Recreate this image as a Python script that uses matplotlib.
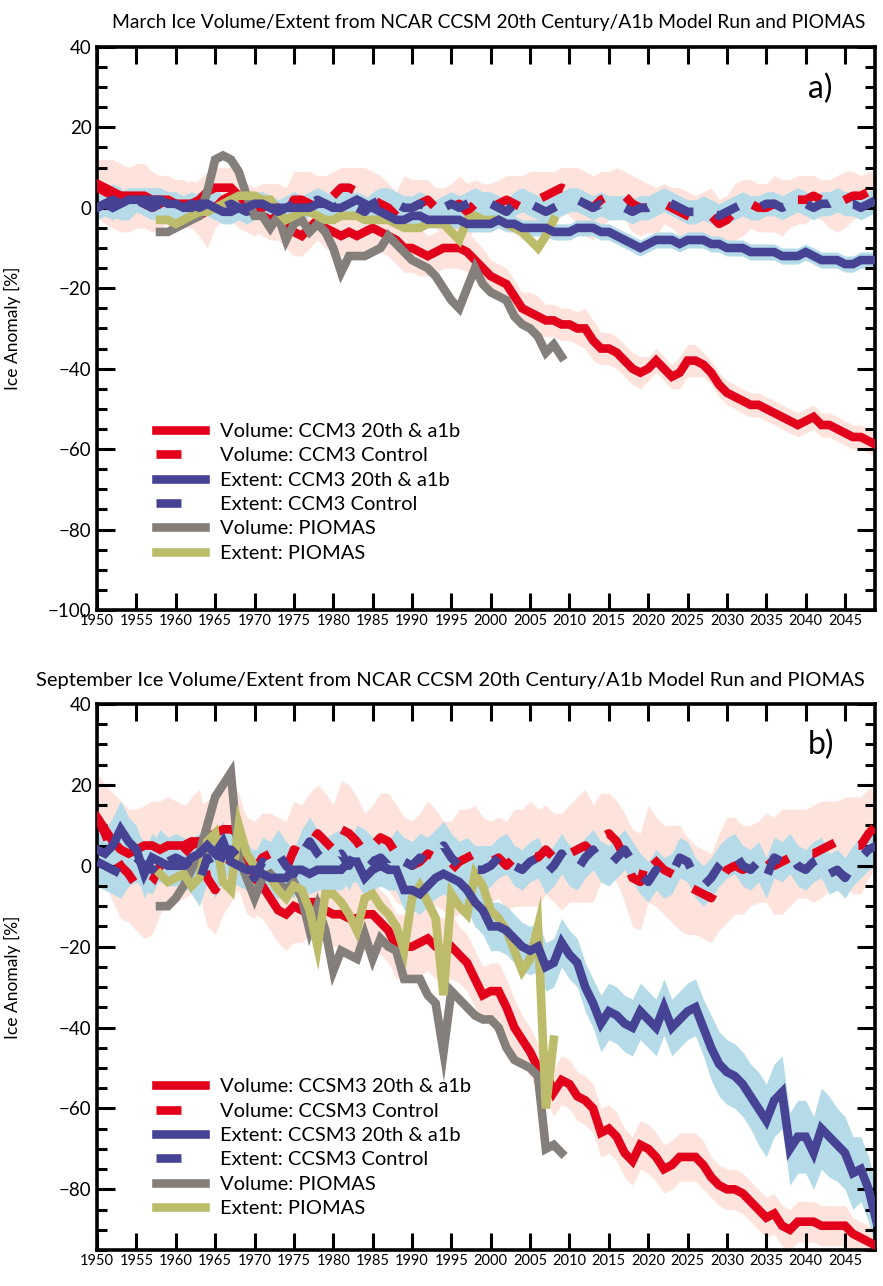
import numpy as np
import matplotlib
matplotlib.use("Agg")
import matplotlib.pyplot as plt
from matplotlib.ticker import MultipleLocator

plt.rcParams['font.family'] = ['Lato', 'DejaVu Sans']

years = np.arange(1950, 2050)
piomas_vol_years = np.arange(1958, 2010)
piomas_ext_years = np.arange(1958, 2009)

# ---------------- March (panel a) ----------------
vol_a1b_mar = [6, 5, 4, 3, 3, 3, 3, 2, 2, 2,
               1, 1, 1, 2, 4, 5, 5, 5, 3, 1,
               0, -2, -3, -2, -4, -6, -7, -5, -3, -5,
               -6, -7, -6, -7, -6, -5, -6, -7, -8, -10,
               -10, -11, -12, -11, -10, -10, -10, -11, -13, -15,
               -17, -18, -19, -22, -25, -26, -27, -28, -28, -29,
               -29, -30, -30, -33, -35, -35, -36, -38, -40, -41,
               -40, -38, -40, -42, -41, -38, -38, -39, -41, -44,
               -46, -47, -48, -49, -49, -50, -51, -52, -53, -54,
               -53, -52, -54, -54, -55, -56, -57, -57, -58, -59]
vol_ctl_mar = [5, 4, 3, 2, 1, 2, 1, 0, 1, 2,
               1, 0, 1, -1, -4, 0, 2, 3, 1, 0,
               -1, 0, 1, 0, -2, 2, 2, 1, 0, 1,
               3, 5, 5, 4, 3, 2, 1, 0, -2, 1,
               0, 1, 2, 0, -1, 0, 1, -1, 1, 0,
               0, 1, 2, 1, 0, 1, 2, 3, 4, 5,
               4, 3, 1, 0, 2, 3, 4, 3, 1, 0,
               0, -1, 1, 0, -1, -2, -3, -3, -2, -4,
               -3, -1, 0, 1, 0, 0, 1, 0, 1, 2,
               2, 3, 2, 1, 1, 2, 3, 3, 4, 4]
ext_a1b_mar = [0, 1, 0, 1, 2, 2, 2, 2, 2, 1,
               1, 0, 0, 1, 1, 0, -1, -1, 0, 0,
               1, 1, 0, 0, 0, 0, 0, 0, 1, 1,
               0, 0, 1, 2, 1, 0, -1, -2, -3, -3,
               -2, -2, -3, -3, -3, -3, -3, -4, -4, -4,
               -4, -3, -4, -4, -5, -5, -5, -5, -6, -6,
               -6, -5, -5, -5, -6, -6, -7, -8, -9, -10,
               -9, -8, -8, -8, -9, -8, -8, -8, -9, -9,
               -10, -10, -10, -11, -11, -11, -11, -12, -12, -12,
               -11, -12, -13, -13, -13, -14, -14, -13, -13, -13]
ext_ctl_mar = [0, 1, 2, 1, 0, 2, 1, 0, 1, 0,
               -1, 0, 1, 0, 1, 2, 0, 1, 0, -1,
               0, 1, 0, -1, 0, 1, 0, 1, 2, 1,
               0, 1, 2, 0, -1, 1, 2, 2, 1, 0,
               0, 1, 0, -1, 0, 1, 0, 1, 2, 1,
               1, 0, -1, 1, 2, 1, 0, -1, 0, 1,
               2, 2, 1, 0, 1, 0, 0, 0, -1, 0,
               0, 1, 2, 1, 0, -1, -1, 0, -1, -2,
               -1, 0, 1, 0, 0, 1, 1, 0, 1, 2,
               1, 0, 1, 1, 2, 1, 1, 0, 1, 2]
piomas_vol_mar = [-6, -6, -5, -4, -3, -2, 4, 12, 13, 12,
                  9, 3, -2, -2, -5, -2, -8, -4, -3, -6,
                  -4, -6, -10, -16, -12, -12, -12, -11, -10, -7,
                  -9, -11, -13, -14, -15, -17, -20, -23, -25, -20,
                  -15, -19, -21, -22, -23, -27, -29, -30, -32, -36,
                  -34, -37]
piomas_ext_mar = [-3, -3, -4, -3, -2, -1, -1, 0, 1, 2,
                  3, 3, 3, 2, 2, -1, -3, -2, -1, -1,
                  -2, -3, -3, -2, -2, -2, -3, -3, -3, -3,
                  -4, -5, -5, -5, -4, -4, -4, -6, -8, -3,
                  -2, -3, -3, -3, -4, -5, -6, -8, -10, -7,
                  -3]
# ensemble spread (half width of shaded bands)
spr_vol_a1b_mar = [6, 7, 8, 8, 7, 8, 8, 7, 6, 6,
                   6, 6, 5, 5, 5, 5, 5, 5, 5, 5,
                   5, 5, 5, 6, 6, 6, 5, 5, 5, 5,
                   5, 5, 5, 5, 5, 5, 5, 5, 6, 6,
                   6, 6, 5, 5, 5, 5, 5, 5, 5, 5,
                   4, 4, 4, 4, 4, 5, 5, 4, 4, 4,
                   4, 4, 5, 5, 4, 4, 4, 4, 4, 4,
                   3, 3, 3, 3, 4, 4, 4, 3, 3, 3,
                   3, 3, 3, 3, 3, 3, 3, 3, 3, 3,
                   3, 3, 3, 3, 3, 3, 3, 3, 3, 3]
spr_vol_ctl_mar = [7, 8, 8, 8, 7, 7, 6, 6, 6, 6,
                   5, 5, 6, 6, 6, 5, 5, 6, 6, 6,
                   6, 6, 5, 6, 7, 7, 7, 8, 8, 7,
                   6, 5, 5, 6, 7, 7, 7, 6, 6, 7,
                   7, 6, 5, 5, 6, 6, 7, 7, 6, 6,
                   6, 6, 6, 7, 8, 8, 7, 6, 5, 5,
                   6, 7, 8, 8, 7, 6, 6, 6, 7, 7,
                   6, 6, 5, 5, 6, 6, 6, 7, 7, 6,
                   6, 7, 7, 6, 6, 6, 7, 7, 6, 6,
                   6, 5, 5, 6, 7, 7, 6, 5, 5, 5]
spr_ext_a1b_mar = [3, 3, 3, 3, 3, 3, 3, 3, 3, 3,
                   3, 3, 3, 3, 3, 3, 3, 3, 3, 3,
                   3, 3, 3, 2, 2, 2, 2, 2, 2, 2,
                   2, 2, 2, 2, 2, 2, 2, 2, 2, 2,
                   2, 2, 2, 2, 2, 2, 2, 2, 2, 2,
                   2, 2, 2, 2, 2, 2, 2, 2, 2, 2,
                   2, 2, 2, 2, 2, 2, 2, 2, 2, 2,
                   2, 2, 2, 2, 2, 2, 2, 2, 2, 2,
                   2, 2, 2, 2, 2, 2, 2, 2, 2, 2,
                   2, 2, 2, 2, 2, 2, 2, 2, 2, 2]
spr_ext_ctl_mar = [3, 3, 4, 4, 3, 3, 3, 3, 3, 3,
                   3, 3, 3, 3, 3, 3, 3, 3, 3, 3,
                   3, 3, 3, 3, 3, 3, 3, 3, 3, 3,
                   3, 3, 3, 3, 3, 3, 3, 3, 3, 3,
                   3, 3, 3, 3, 3, 3, 3, 3, 3, 3,
                   3, 3, 3, 3, 3, 3, 3, 3, 3, 3,
                   3, 3, 3, 3, 3, 3, 3, 3, 3, 3,
                   3, 3, 3, 3, 3, 3, 3, 3, 3, 3,
                   3, 3, 3, 3, 3, 3, 3, 3, 3, 3,
                   3, 3, 3, 3, 3, 3, 3, 3, 3, 3]

# ---------------- September (panel b) ----------------
vol_a1b_sep = [12, 9, 6, 4, 3, 4, 5, 5, 4, 5,
               5, 5, 6, 6, 7, 8, 9, 9, 8, 2,
               -3, -5, -8, -11, -12, -10, -11, -9, -9, -11,
               -12, -12, -13, -13, -12, -12, -14, -16, -20, -20,
               -20, -19, -18, -20, -21, -20, -22, -24, -28, -32,
               -31, -31, -35, -40, -43, -46, -50, -51, -56, -53,
               -54, -57, -58, -60, -66, -65, -67, -71, -73, -69,
               -70, -72, -75, -74, -72, -72, -72, -74, -77, -79,
               -80, -80, -81, -83, -85, -87, -86, -89, -90, -88,
               -88, -88, -89, -89, -89, -89, -91, -92, -93, -94]
vol_ctl_sep = [12, 8, 3, 0, -2, -5, -6, -4, 0, 2,
               1, 3, 5, 6, -3, -6, -2, 1, 5, 0,
               -1, 2, 3, 1, -1, 4, 3, 5, 8, 6,
               4, 9, 8, 6, 3, 5, 7, 6, 3, 1,
               0, 1, 3, 2, 0, -1, 1, 2, 3, 1,
               1, 2, 0, 2, 2, 3, 2, 4, 2, 1,
               3, 4, 5, 3, 7, 8, 6, 2, -3, -4,
               3, 1, -1, -2, -3, -5, -6, -7, -8, -4,
               -1, 0, -1, 0, 1, 2, 0, 1, 2, 3,
               3, 3, 4, 5, 6, 6, 5, 5, 8, 10]
ext_a1b_sep = [4, 3, 5, 9, 6, 4, -2, 2, 1, 0,
               0, 0, 2, 3, 5, 3, 6, 1, 0, -1,
               -1, -2, -3, -3, -3, -1, -1, -2, -1, -1,
               -1, -1, 1, 1, -3, -1, 0, -1, -1, -6,
               -6, -7, -5, -3, -2, -3, -4, -6, -9, -11,
               -15, -15, -16, -18, -20, -21, -20, -25, -24, -19,
               -22, -24, -30, -34, -39, -36, -37, -39, -40, -36,
               -38, -40, -35, -40, -38, -36, -35, -40, -45, -49,
               -51, -52, -54, -57, -60, -63, -58, -56, -70, -67,
               -67, -71, -65, -67, -69, -71, -76, -75, -80, -88]
ext_ctl_sep = [1, 0, -1, -2, 1, 2, 0, -1, 3, 1,
               2, 1, -1, -4, 2, -2, 3, 4, 2, 0,
               -3, 1, 0, 3, 0, -2, 3, 6, 3, 1,
               2, 3, 0, 4, 3, 1, 2, 0, 3, 1,
               0, 2, 1, 3, 5, 2, 0, 1, -1, -1,
               0, 2, 3, 0, -1, 1, 2, -2, 0, 3,
               0, -1, 2, 4, 1, 0, 2, 4, 1, -2,
               -4, -1, -3, -2, 2, 1, -3, -5, -3, 0,
               2, 3, 0, -1, 1, -3, 2, 1, 3, 0,
               -1, 1, 2, -2, -1, -3, 0, 2, 4, 5]
piomas_vol_sep = [-10, -10, -8, -5, -1, 3, 10, 17, 20, 23,
                  2, -3, -8, -3, -2, -4, -6, -4, -8, -16,
                  -10, -16, -26, -21, -22, -23, -17, -23, -18, -20,
                  -21, -28, -28, -28, -32, -34, -46, -31, -33, -35,
                  -37, -38, -38, -40, -45, -48, -49, -50, -52, -70,
                  -69, -71]
piomas_ext_sep = [-2, -4, -3, -2, -5, -3, 6, 8, -4, -6,
                  10, 3, 0, -2, -3, -6, -8, -5, -6, -11,
                  -20, -7, -7, -9, -12, -16, -8, -7, -10, -12,
                  -15, -21, -8, -5, -9, -13, -32, -7, -10, -12,
                  -2, -5, -11, -13, -16, -21, -26, -23, -15, -60,
                  -43]
spr_vol_a1b_sep = [10, 11, 12, 12, 11, 10, 10, 11, 12, 12,
                   11, 10, 10, 9, 9, 10, 11, 11, 10, 9,
                   9, 8, 8, 8, 9, 9, 8, 8, 8, 8,
                   8, 8, 8, 9, 9, 8, 8, 8, 8, 8,
                   8, 8, 8, 8, 8, 8, 7, 7, 7, 7,
                   7, 7, 7, 7, 6, 6, 6, 6, 6, 6,
                   6, 6, 6, 6, 6, 6, 6, 6, 6, 6,
                   6, 6, 6, 6, 6, 6, 6, 6, 5, 5,
                   5, 5, 5, 5, 5, 5, 5, 5, 5, 5,
                   5, 5, 5, 5, 5, 5, 4, 4, 4, 4]
spr_vol_ctl_sep = [11, 12, 12, 13, 12, 11, 12, 13, 12, 11,
                   10, 11, 12, 13, 12, 11, 10, 10, 11, 12,
                   12, 11, 10, 11, 12, 12, 12, 13, 12, 12,
                   11, 12, 12, 11, 10, 10, 11, 12, 12, 11,
                   11, 12, 13, 12, 11, 12, 13, 12, 12, 11,
                   10, 10, 11, 12, 12, 13, 12, 11, 11, 12,
                   12, 13, 14, 12, 11, 10, 10, 11, 12, 12,
                   12, 11, 11, 12, 13, 12, 11, 11, 11, 12,
                   13, 12, 11, 10, 10, 11, 12, 13, 12, 11,
                   11, 12, 12, 11, 10, 11, 12, 12, 11, 10]
spr_ext_a1b_sep = [6, 6, 7, 7, 6, 6, 6, 6, 5, 5,
                   5, 5, 5, 5, 5, 5, 5, 5, 5, 5,
                   5, 5, 5, 5, 5, 5, 5, 5, 5, 5,
                   5, 5, 5, 5, 5, 5, 5, 5, 5, 5,
                   5, 5, 5, 5, 5, 5, 5, 5, 6, 6,
                   6, 6, 6, 6, 6, 6, 6, 6, 6, 6,
                   6, 6, 6, 6, 7, 7, 7, 7, 7, 7,
                   7, 7, 7, 7, 7, 7, 7, 7, 8, 8,
                   8, 8, 8, 8, 9, 9, 9, 9, 9, 9,
                   9, 9, 10, 10, 9, 9, 9, 8, 8, 8]
spr_ext_ctl_sep = [6, 6, 6, 6, 6, 6, 6, 6, 6, 6,
                   6, 6, 6, 6, 6, 6, 6, 6, 6, 6,
                   6, 6, 6, 6, 6, 6, 6, 6, 6, 6,
                   6, 6, 6, 6, 6, 6, 6, 6, 6, 6,
                   6, 6, 6, 6, 6, 6, 6, 6, 6, 6,
                   5, 5, 5, 5, 5, 5, 5, 5, 5, 5,
                   5, 5, 5, 5, 5, 5, 5, 5, 5, 5,
                   5, 5, 5, 5, 5, 5, 5, 5, 5, 5,
                   5, 5, 5, 5, 5, 5, 5, 5, 5, 5,
                   5, 5, 5, 5, 5, 5, 5, 5, 5, 5]

RED = '#e2001a'
BLUE = '#474394'
GREY = '#857f7c'
OLIVE = '#bdbc6a'
PINK = '#fde3db'
LBLUE = '#b5dbe8'


def band(ax, y, s, color):
    y = np.array(y, dtype=float)
    s = np.array(s, dtype=float)
    ax.fill_between(years, y - s, y + s, color=color, lw=0, zorder=1)


def panel(ax, va, vc, ea, ec, pv, pe, sva, svc, sea, sec, labels, tag, ylo, leg_top):
    band(ax, va, sva, PINK)
    band(ax, vc, svc, PINK)
    band(ax, ea, sea, LBLUE)
    band(ax, ec, sec, LBLUE)
    lw = 6.2
    dash = (2.9, 2.9)
    ax.plot(years, va, color=RED, lw=lw, solid_joinstyle='miter', zorder=3, label=labels[0])
    ax.plot(years, vc, color=RED, lw=lw, dashes=dash, zorder=3, label=labels[1])
    ax.plot(piomas_vol_years, pv, color=GREY, lw=lw, solid_joinstyle='miter', zorder=4,
            label=labels[4])
    ax.plot(piomas_ext_years, pe, color=OLIVE, lw=lw, solid_joinstyle='miter', zorder=4,
            label=labels[5])
    ax.plot(years, ec, color=BLUE, lw=lw, dashes=dash, zorder=5, label=labels[3])
    ax.plot(years, ea, color=BLUE, lw=lw, solid_joinstyle='miter', zorder=5, label=labels[2])

    ax.set_xlim(1950, 2048.8)
    ax.set_ylim(ylo, 40)
    ax.xaxis.set_major_locator(MultipleLocator(5))
    ax.yaxis.set_major_locator(MultipleLocator(20))
    ax.yaxis.set_minor_locator(MultipleLocator(5))
    ax.tick_params(axis='both', which='both', direction='in', top=True, right=True, width=2.2)
    ax.tick_params(axis='x', which='major', length=12, labelsize=10.5, pad=3)
    ax.tick_params(axis='y', which='major', length=13, labelsize=13.5, pad=4)
    ax.tick_params(axis='y', which='minor', length=7)
    for sp in ax.spines.values():
        sp.set_linewidth(2.6)
    ax.set_ylabel('Ice Anomaly [%]', fontsize=12.5)
    ax.yaxis.set_label_coords(-0.098, 0.5)
    ax.text(0.93, 0.925, tag, transform=ax.transAxes, fontsize=23, ha='center', va='center')

    h, l = ax.get_legend_handles_labels()
    order = [0, 1, 5, 4, 2, 3]
    ax.legend([h[i] for i in order], [l[i] for i in order], loc='upper left',
              bbox_to_anchor=(0.063, leg_top), frameon=False, fontsize=14.5,
              handlelength=2.45, handletextpad=0.7, labelspacing=0.36, borderpad=0)


fig = plt.figure(figsize=(8.83, 12.86), dpi=100)
ax1 = fig.add_axes([0.1099, 0.5257, 0.8810, 0.4378])
ax2 = fig.add_axes([0.1099, 0.0280, 0.8810, 0.4246])

panel(ax1, vol_a1b_mar, vol_ctl_mar, ext_a1b_mar, ext_ctl_mar, piomas_vol_mar, piomas_ext_mar,
      spr_vol_a1b_mar, spr_vol_ctl_mar, spr_ext_a1b_mar, spr_ext_ctl_mar,
      ['Volume: CCM3 20th & a1b', 'Volume: CCM3 Control', 'Extent: CCM3 20th & a1b',
       'Extent: CCM3 Control', 'Volume: PIOMAS', 'Extent: PIOMAS'],
      'a)', -100, 0.35)
panel(ax2, vol_a1b_sep, vol_ctl_sep, ext_a1b_sep, ext_ctl_sep, piomas_vol_sep, piomas_ext_sep,
      spr_vol_a1b_sep, spr_vol_ctl_sep, spr_ext_a1b_sep, spr_ext_ctl_sep,
      ['Volume: CCSM3 20th & a1b', 'Volume: CCSM3 Control', 'Extent: CCSM3 20th & a1b',
       'Extent: CCSM3 Control', 'Volume: PIOMAS', 'Extent: PIOMAS'],
      'b)', -95, 0.333)

fig.text(0.553, 0.9825, 'March Ice Volume/Extent from NCAR CCSM 20th Century/A1b Model Run and PIOMAS',
         fontsize=13.9, ha='center', va='center')
fig.text(0.5096, 0.4705, 'September Ice Volume/Extent from NCAR CCSM 20th Century/A1b Model Run and PIOMAS',
         fontsize=14.5, ha='center', va='center')

fig.savefig('out.png', dpi=100)
